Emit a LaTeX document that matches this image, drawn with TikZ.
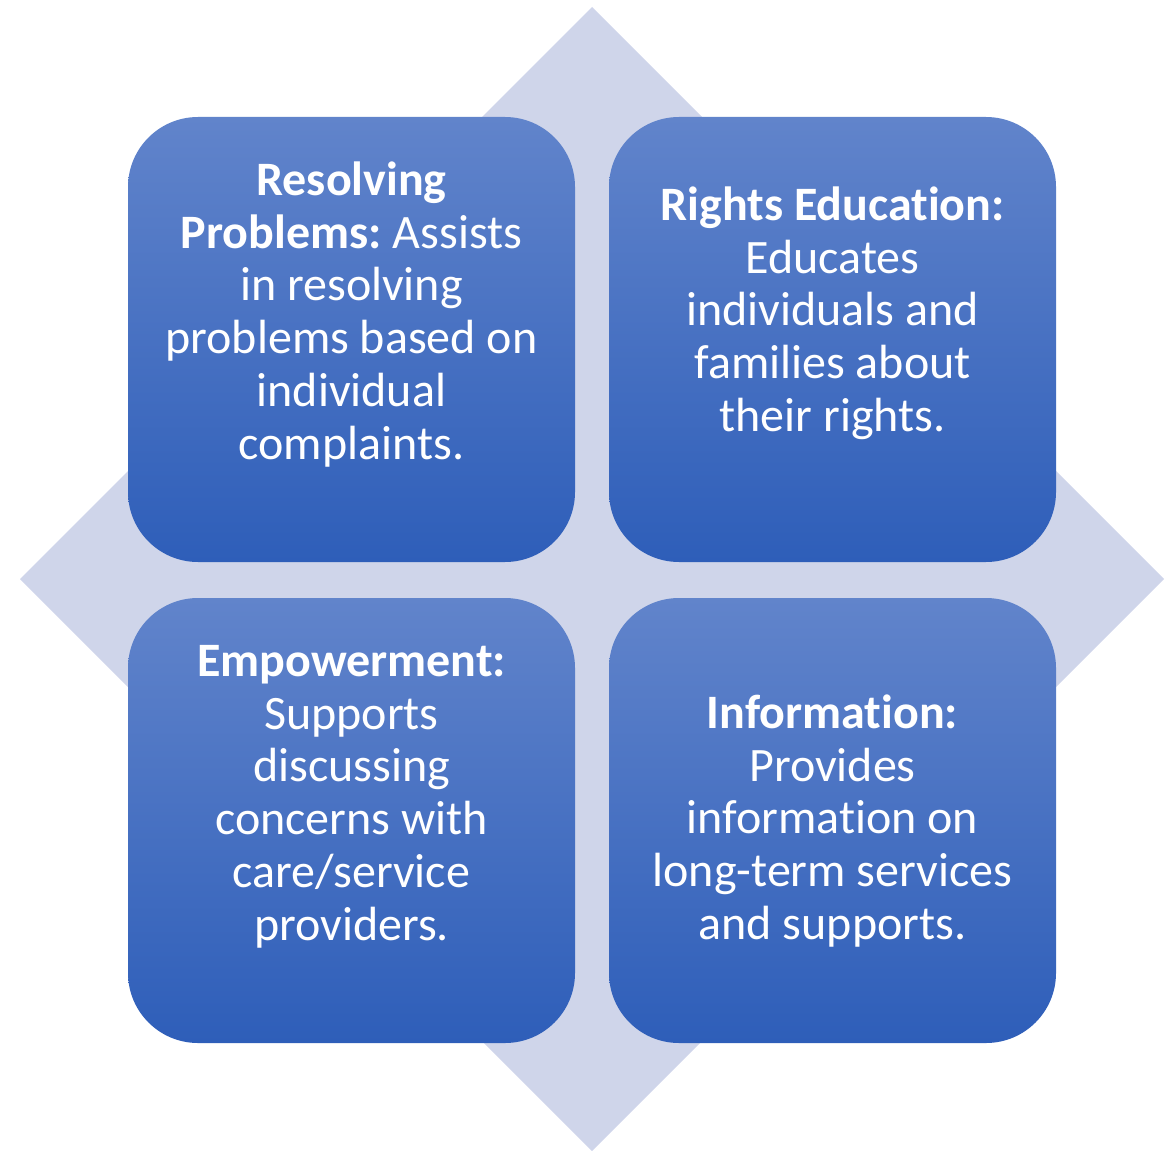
\documentclass[tikz,border=0pt]{standalone}
\usepackage{fontspec}
\setmainfont{Carlito}[RawFeature={-liga,-clig,-dlig,-calt}]
\frenchspacing
\begin{document}
\definecolor{diamondfill}{HTML}{CFD5EA}
\definecolor{boxtop}{HTML}{6184CB}
\definecolor{boxbottom}{HTML}{2E5EB9}
\tikzset{
  tile/.style={top color=boxtop, bottom color=boxbottom, draw=none,
    rounded corners=70pt},
  tiletext/.style={anchor=north, inner sep=0pt, align=center, text=white,
    font=\fontsize{48pt}{52.8pt}\selectfont},
}
\newcommand{\firstline}{\rule{0pt}{40pt}}
\begin{tikzpicture}[x=1pt, y=-1pt]
  \useasboundingbox (0,0) rectangle (1166,1150);
  % background diamond
  \fill[diamondfill] (592,7) -- (1164,579) -- (592,1151) -- (20,579) -- cycle;
  % four tiles
  \path[tile] (128,117) rectangle (575,562);
  \path[tile] (609,117) rectangle (1056,562);
  \path[tile] (128,598) rectangle (575,1043);
  \path[tile] (609,598) rectangle (1056,1043);
  % tile texts (north anchor 40pt above the first baseline)
  \node[tiletext] (resolving) at (351.5,155)
    {\firstline\textbf{Resolving}\\ \textbf{Problems:} Assists\\ in resolving\\ problems based on\\ individual\\ complaints.};
  \node[tiletext] (rights) at (832.5,180)
    {\firstline\textbf{Rights Education:}\\ Educates\\ individuals and\\ families about\\ their rights.};
  \node[tiletext] (empower) at (351.5,636)
    {\firstline\textbf{Empowerment:}\\ Supports\\ discussing\\ concerns with\\ care/service\\ providers.};
  \node[tiletext] (info) at (832.5,688)
    {\firstline\textbf{Information:}\\ Provides\\ information on\\ long-term services\\ and supports.};
\end{tikzpicture}
\end{document}
